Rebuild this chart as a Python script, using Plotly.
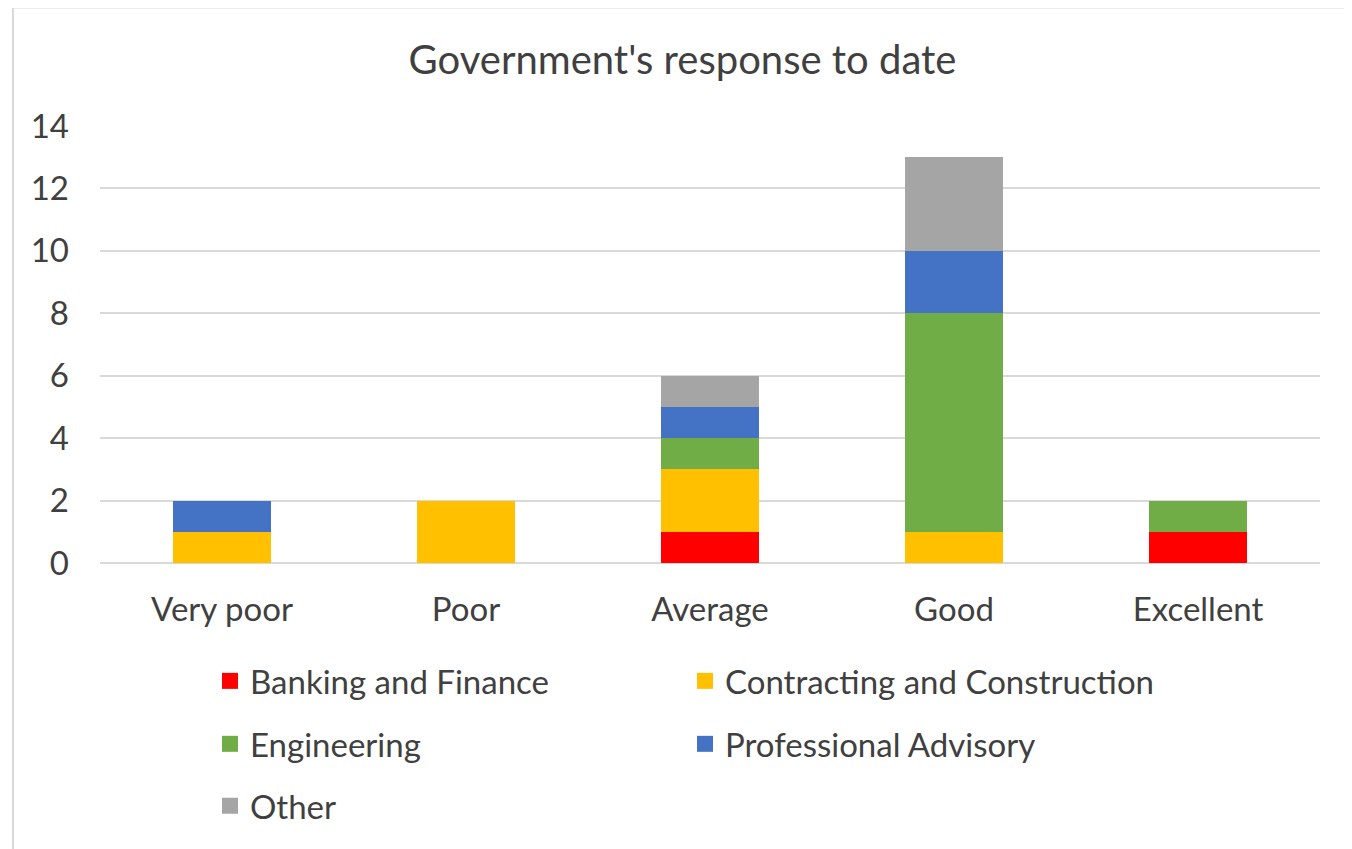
import plotly.graph_objects as go

categories = ["Very poor", "Poor", "Average", "Good", "Excellent"]
banking = [0, 0, 1, 0, 1]
contracting = [1, 2, 2, 1, 0]
engineering = [0, 0, 1, 7, 1]
professional = [1, 0, 1, 2, 0]
other = [0, 0, 1, 3, 0]
y_ticks = [0, 2, 4, 6, 8, 10, 12, 14]

series = [
    ("Banking and Finance", banking, "#FF0000", "legend"),
    ("Contracting and Construction", contracting, "#FFC000", "legend"),
    ("Engineering", engineering, "#70AD47", "legend2"),
    ("Professional Advisory", professional, "#4472C4", "legend2"),
    ("Other", other, "#A5A5A5", "legend3"),
]

FONT = "Lato"
TXT = "#404040"
OFF = 8  # page body margin

fig = go.Figure()
for name, vals, color, leg in series:
    fig.add_trace(go.Bar(x=categories, y=vals, name=name, marker_color=color,
                         marker_line_width=0, legendgroup=name, showlegend=False))
    # legend entry with a larger square swatch, linked to the bar trace
    fig.add_trace(go.Scatter(x=[None], y=[None], mode="markers", name=name,
                             legendgroup=name, legend=leg, hoverinfo="skip",
                             marker=dict(symbol="square", size=16, color=color,
                                         line=dict(width=0))))

W, H = 1352, 849
# target plot-area edges in screen pixels
PX0, PX1, PY0, PY1 = 100, 1320, 125.7, 563
L = PX0 - OFF
R = W - (PX1 - OFF)
T = PY0 - OFF
B = H - (PY1 - OFF)
ph = PY1 - PY0
pw = PX1 - PX0

def py(ypx):
    return (PY1 - ypx) / ph

def pxx(xpx):
    return (xpx - PX0) / pw

leg_common = dict(orientation="h", xanchor="left", yanchor="middle",
                  x=pxx(210), entrywidth=430, entrywidthmode="pixels",
                  itemsizing="trace",
                  font=dict(family=FONT, size=33, color=TXT),
                  bgcolor="rgba(0,0,0,0)", traceorder="normal")

fig.update_layout(
    barmode="stack",
    bargap=0.6,
    width=W, height=H,
    margin=dict(l=L, r=R, t=T, b=B, autoexpand=False),
    paper_bgcolor="white", plot_bgcolor="white",
    font=dict(family=FONT, color=TXT),
    title=dict(text="Government's response to date", x=(682.5 - OFF) / W, xanchor="center",
               y=1 - (60 - OFF) / H, yanchor="middle", yref="container",
               font=dict(family=FONT, size=40, color=TXT)),
    legend=dict(leg_common, y=py(681)),
    legend2=dict(leg_common, y=py(744)),
    legend3=dict(leg_common, y=py(806)),
    xaxis=dict(showgrid=False, showline=False, ticks="", ticklabelstandoff=24,
               tickfont=dict(family=FONT, size=33, color=TXT)),
    yaxis=dict(range=[0, 14], tickvals=y_ticks, showgrid=True, gridcolor="#D9D9D9",
               gridwidth=1.5, zeroline=True, zerolinecolor="#D9D9D9", zerolinewidth=1.5,
               showline=False, ticks="", ticklabelstandoff=30,
               tickfont=dict(family=FONT, size=33, color=TXT)),
    shapes=[dict(type="rect", xref="paper", yref="paper",
                 x0=pxx(13), x1=1.2, y0=-2, y1=py(7),
                 line=dict(color="#D9D9D9", width=2), fillcolor="rgba(0,0,0,0)",
                 layer="below")],
)

fig.write_html("out.html")
